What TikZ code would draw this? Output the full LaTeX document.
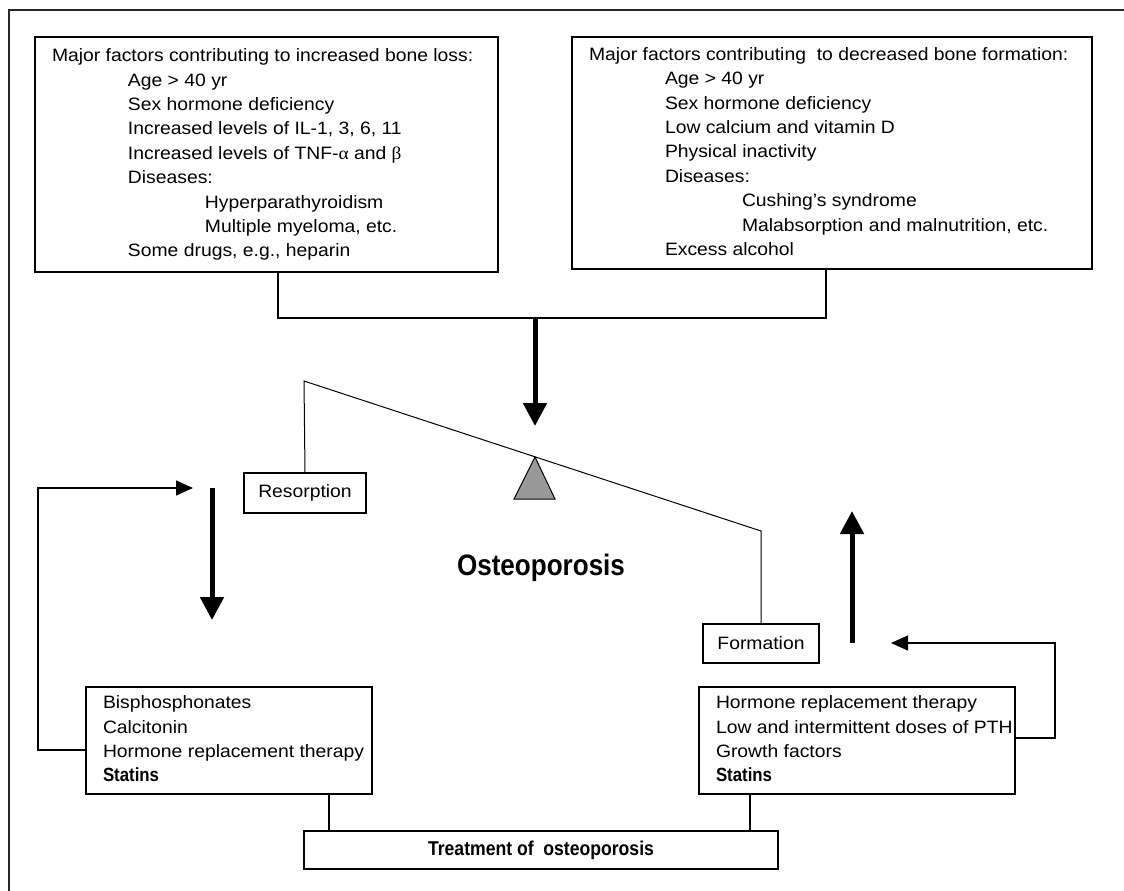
\documentclass[tikz,border=0pt]{standalone}
\usepackage{fontspec}
\setmainfont{Liberation Sans}[FakeStretch=1.08]
\newfontfamily\grk{Liberation Serif}[FakeStretch=1.08]
\newfontface\bcond{Liberation Sans Bold}[FakeStretch=0.88]
\usetikzlibrary{arrows.meta}
\definecolor{fulc}{gray}{0.6}
\newcommand\bodysize{\fontsize{17.9}{24.4}\selectfont}
\newcommand\boldsize{\fontsize{19.1}{24.4}\selectfont\bcond}
\newcommand\ia{\hspace*{76pt}}
\newcommand\ib{\hspace*{153pt}}
\begin{document}
\begin{tikzpicture}[x=1pt,y=-1pt,
  box/.style={draw, line width=1.2pt, inner xsep=17pt, inner ysep=0pt, font=\bodysize},
  smallbox/.style={draw, line width=1.2pt, inner sep=0pt, font=\bodysize},
  thinline/.style={line width=1pt},
  link/.style={line width=1.2pt},
  bigarrow/.style={line width=5pt, -{Triangle[width=23pt,length=23pt]}},
  fbarrow/.style={line width=1.2pt, -{Triangle[width=15pt,length=17pt]}}]
\useasboundingbox (0,0) rectangle (1124,891);
% frame
\draw[line width=1.2pt, black!85] (9,891) -- (9,10) -- (1124,10);
% top boxes
\node[box, minimum height=235pt] (loss) at (266.5,154.5) {\makebox[429pt][l]{\begin{tabular}{@{}l@{}}
Major factors contributing to increased bone loss:\\
\ia Age > 40 yr\\
\ia Sex hormone deficiency\\
\ia Increased levels of IL-1, 3, 6, 11\\
\ia Increased levels of TNF-{\grk α} and {\grk β}\\
\ia Diseases:\\
\ib Hyperparathyroidism\\
\ib Multiple myeloma, etc.\\
\ia Some drugs, e.g., heparin
\end{tabular}}};
\node[box, minimum height=232pt] (form) at (832,153) {\makebox[486pt][l]{\begin{tabular}{@{}l@{}}
Major factors contributing\ \ to decreased bone formation:\\
\ia Age > 40 yr\\
\ia Sex hormone deficiency\\
\ia Low calcium and vitamin D\\
\ia Physical inactivity\\
\ia Diseases:\\
\ib Cushing’s syndrome\\
\ib Malabsorption and malnutrition, etc.\\
\ia Excess alcohol
\end{tabular}}};
% junction and main arrow
\coordinate (j) at (535,318);
\coordinate (tip1) at (535,426);
\draw[link] ([xshift=11.5pt]loss.south) |- (j) -| ([xshift=-6pt]form.south);
\draw[bigarrow] (j) -- (tip1);
% balance
\node[smallbox, minimum width=122pt, minimum height=40pt] (res) at (305,493) {Resorption};
\node[smallbox, minimum width=116pt, minimum height=39pt] (fm) at (761,643.5) {Formation};
\coordinate (bl) at (304,381);
\coordinate (br) at (761,531);
\draw[thinline] (res.north) -- (bl) -- (br) -- (fm.north);
\draw[fill=fulc, line width=1pt] (535,457) -- (555,499) -- (514,499) -- cycle;
\node[font=\fontsize{29.6}{32}\selectfont\bcond] (osteo) at (541,568) {Osteoporosis};
% thick side arrows
\coordinate (ld1) at (212,488);
\coordinate (ld2) at (212,620);
\draw[bigarrow] (ld1) -- (ld2);
\coordinate (ru1) at (852,643);
\coordinate (ru2) at (852,511);
\draw[bigarrow] (ru1) -- (ru2);
% bottom boxes
\node[box, minimum height=107pt] (anti) at (229,740.5) {\makebox[252pt][l]{\begin{tabular}{@{}l@{}}
Bisphosphonates\\
Calcitonin\\
Hormone replacement therapy\\
{\boldsize Statins}
\end{tabular}}};
\node[box, minimum height=107pt] (ana) at (857,740.5) {\makebox[282pt][l]{\begin{tabular}{@{}l@{}}
Hormone replacement therapy\\
Low and intermittent doses of PTH\\
Growth factors\\
{\boldsize Statins}
\end{tabular}}};
\node[smallbox, minimum width=474pt, minimum height=38pt, font=\fontsize{20}{22}\selectfont\bcond] (treat) at (541,850) {Treatment of\ \ osteoporosis};
\draw[link] ([xshift=100pt]anti.south) -- ([xshift=100pt]anti.south |- treat.north);
\draw[link] ([xshift=-107pt]ana.south) -- ([xshift=-107pt]ana.south |- treat.north);
% feedback arrows
\coordinate (fbL) at (38,488);
\coordinate (fbLtip) at (193,488);
\draw[fbarrow] ([yshift=-9.5pt]anti.west) -| (fbL) -- (fbLtip);
\coordinate (fbR) at (1055,643);
\coordinate (fbRtip) at (891,643);
\draw[fbarrow] ([yshift=2.5pt]ana.east) -| (fbR) -- (fbRtip);
\end{tikzpicture}
\end{document}
